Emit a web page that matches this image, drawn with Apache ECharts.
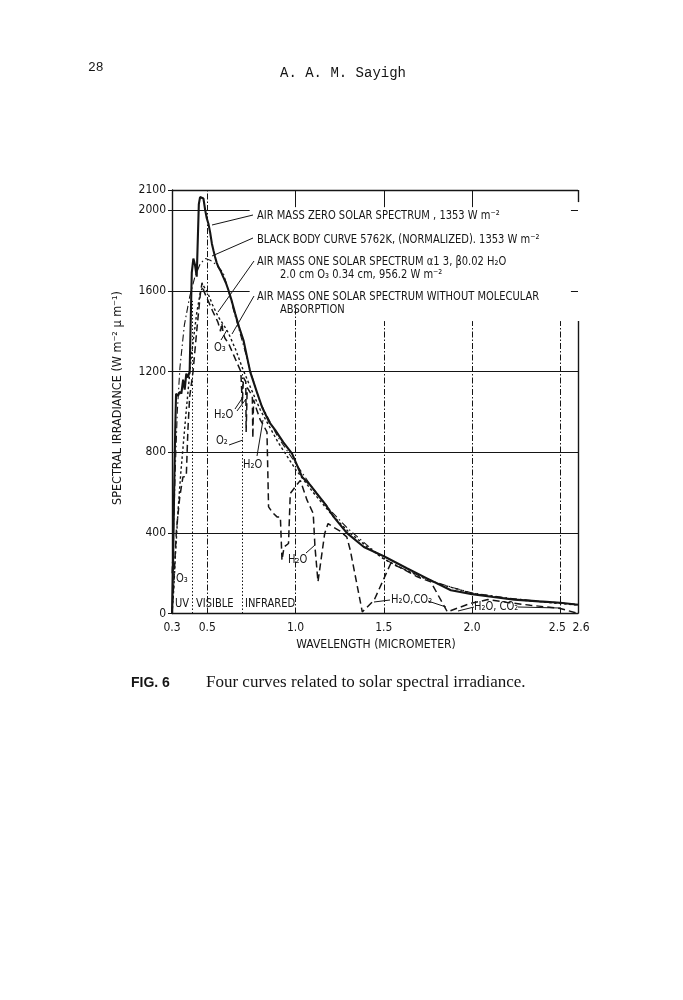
<!DOCTYPE html>
<html>
<head>
<meta charset="utf-8">
<script src="https://cdn.jsdelivr.net/npm/echarts@6/dist/echarts.min.js"></script>
<style>
html,body{margin:0;padding:0;background:#fff;}
#chart{width:683px;height:1000px;}
</style>
</head>
<body>
<div id="chart"></div>
<script>
// ---------- data ----------
const xTicks = [0.3, 0.5, 1.0, 1.5, 2.0, 2.5, 2.6];
const yTicks = [0, 400, 800, 1200, 1600, 2000, 2100];

// Air mass zero solar spectrum (solid)
const wlAM0  = [0.300,0.306,0.312,0.318,0.323,0.334,0.345,0.353,0.363,0.372,0.381,0.390,0.400,0.406,0.412,0.421,0.430,0.440,0.446,0.452,0.459,0.468,0.478,0.488,0.497,0.506,0.516,0.526,0.535,0.544,0.553,0.563,0.575,0.590,0.605,0.620,0.640,0.658,0.680,0.705,0.743,0.780,0.810,0.850,0.885,0.930,0.980,1.037,1.080,1.120,1.170,1.216,1.290,1.387,1.500,1.633,1.747,1.880,2.000,2.120,2.240,2.380,2.500,2.600];
const irrAM0 = [0,250,600,900,1090,1080,1100,1090,1160,1110,1190,1170,1200,1450,1690,1760,1730,1670,1850,2030,2065,2070,2058,2000,1960,1934,1890,1834,1800,1768,1740,1718,1700,1669,1640,1603,1545,1487,1420,1355,1198,1100,1024,950,909,850,793,677,640,595,540,479,400,330,284,223,173,115,96,82,69,60,53,43];

// Black body curve 5762K normalized (dash-dot)
const wlBB  = [0.300,0.310,0.320,0.330,0.345,0.370,0.400,0.430,0.460,0.490,0.520,0.550,0.590,0.620,0.650,0.700,0.750,0.800,0.900,1.000,1.100,1.200,1.300,1.400,1.500,1.600,1.700,1.800,1.900,2.000,2.200,2.400,2.600];
const irrBB = [200,450,750,1000,1220,1430,1570,1670,1735,1760,1750,1730,1690,1600,1500,1345,1185,1045,875,745,618,508,418,343,270,226,188,153,126,102,77,59,46];

// Air mass one solar spectrum (dashed, with absorption bands)
const wlAM1  = [0.300,0.310,0.325,0.344,0.362,0.381,0.390,0.400,0.419,0.440,0.460,0.470,0.480,0.500,0.530,0.560,0.575,0.582,0.590,0.600,0.620,0.650,0.690,0.697,0.698,0.705,0.718,0.720,0.726,0.740,0.755,0.758,0.762,0.780,0.800,0.820,0.838,0.847,0.870,0.895,0.914,0.923,0.935,0.960,0.970,0.998,1.027,1.065,1.100,1.110,1.127,1.165,1.184,1.210,1.250,1.290,1.310,1.378,1.445,1.539,1.600,1.690,1.766,1.860,1.990,2.090,2.200,2.330,2.500,2.600];
const irrAM1 = [0,150,413,578,677,680,909,1074,1198,1400,1580,1640,1600,1560,1500,1445,1400,1440,1390,1365,1340,1280,1200,1195,1040,1170,1150,900,1120,1100,1080,870,1060,1010,960,930,900,529,500,479,479,264,330,347,595,628,660,562,496,330,157,397,446,430,410,380,314,8,66,248,225,182,157,8,50,69,55,41,25,0];

// Air mass one solar spectrum without molecular absorption (dotted)
const wlNoMol  = [0.300,0.310,0.320,0.335,0.350,0.380,0.410,0.440,0.460,0.478,0.500,0.530,0.563,0.600,0.620,0.660,0.700,0.750,0.800,0.900,1.000,1.100,1.200,1.300,1.400,1.500,1.600,1.700,1.800,2.000,2.200,2.400,2.600];
const irrNoMol = [0,120,300,520,700,1000,1280,1490,1590,1625,1595,1530,1470,1420,1390,1310,1215,1110,1010,850,715,600,495,405,335,270,225,185,150,100,74,57,42];

// ---------- helpers ----------
const zip = (a, b) => a.map((v, i) => [v, b[i]]);
const INK = '#151515';
const NARROW = "'Liberation Sans Narrow','DejaVu Sans Condensed','Liberation Sans',sans-serif";

const solid = {color: INK, width: 1, type: 'solid'};
const border = {color: INK, width: 1.4, type: 'solid'};
const dashDot = {color: INK, width: 1, type: [6, 2, 1.5, 2]};
const dotted = {color: INK, width: 1, type: [1.5, 2]};
function seg(x1, y1, x2, y2, st) {
  return [{coord: [x1, y1], lineStyle: st}, {coord: [x2, y2]}];
}
const frame = [
  seg(0.3, 400, 2.6, 400, solid),
  seg(0.3, 800, 2.6, 800, solid),
  seg(0.3, 1200, 2.6, 1200, solid),
  seg(0.3, 1600, 0.74, 1600, solid),
  seg(0.3, 2000, 0.74, 2000, solid),
  seg(0.3, 2100, 2.6, 2100, border),
  seg(2.6, 0, 2.6, 1450, border),
  seg(2.6, 2040, 2.6, 2100, border),
  seg(2.56, 2000, 2.6, 2000, solid),
  seg(2.56, 1600, 2.6, 1600, solid),
  seg(0.5, 0, 0.5, 2100, dashDot),
  seg(1.0, 0, 1.0, 1540, dashDot),
  seg(1.0, 2015, 1.0, 2100, solid),
  seg(1.5, 0, 1.5, 1450, dashDot),
  seg(1.5, 2015, 1.5, 2100, solid),
  seg(2.0, 0, 2.0, 1450, dashDot),
  seg(2.0, 2015, 2.0, 2100, solid),
  seg(2.5, 0, 2.5, 1450, dashDot),
  seg(0.414, 0, 0.414, 1550, dotted),
  seg(0.70, 0, 0.70, 1200, dotted)
];

const chart = echarts.init(document.getElementById('chart'), null, {renderer: 'canvas'});

function txt(x, y, text, opts) {
  opts = opts || {};
  const narrow = !opts.font && !opts.noScale;
  return {
    type: 'text', x: x, y: y, z: 100, rotation: opts.rot || 0,
    scaleX: narrow ? 0.92 : 1,
    style: {
      text: text, x: 0, y: 0,
      font: opts.font || ((opts.size || 12) + 'px ' + NARROW),
      fill: INK,
      align: opts.align || 'left', textAlign: opts.align || 'left',
      verticalAlign: 'middle', textVerticalAlign: 'middle'
    }
  };
}
function ln(pts) {
  return {type: 'polyline', z: 100, shape: {points: pts}, style: {stroke: INK, lineWidth: 1, fill: null}};
}

const annotations = [
  // page header and caption
  txt(88, 68, '28', {font: "13px 'Liberation Mono','DejaVu Sans Mono',monospace"}),
  txt(280, 73, 'A. A. M. Sayigh', {font: "14px 'Liberation Mono','DejaVu Sans Mono',monospace"}),
  txt(131, 683, 'FIG. 6', {font: "bold 14px 'Liberation Sans',sans-serif"}),
  txt(206, 683, 'Four curves related to solar spectral irradiance.', {font: "17px 'Liberation Serif','DejaVu Serif',serif"}),
  // axis titles
  txt(118, 398, 'SPECTRAL IRRADIANCE (W m\u207B\u00B2 \u03BC m\u207B\u00B9)', {align: 'center', rot: Math.PI / 2, noScale: true, size: 12.5}),
  txt(376, 645, 'WAVELENGTH (MICROMETER)', {align: 'center', noScale: true}),
  // curve labels
  txt(257, 216, 'AIR MASS ZERO SOLAR SPECTRUM , 1353 W m\u207B\u00B2'),
  ln([[253, 215], [212, 225]]),
  txt(257, 240, 'BLACK BODY CURVE 5762K, (NORMALIZED). 1353 W m\u207B\u00B2'),
  ln([[253, 238], [212, 256]]),
  txt(257, 262, 'AIR MASS ONE SOLAR SPECTRUM \u03B11 3, \u03B20.02 H\u2082O'),
  txt(280, 275, '2.0 cm O\u2083 0.34 cm, 956.2 W m\u207B\u00B2'),
  ln([[254, 261], [218, 312]]),
  txt(257, 297, 'AIR MASS ONE SOLAR SPECTRUM WITHOUT MOLECULAR'),
  txt(280, 310, 'ABSORPTION'),
  ln([[254, 296], [232, 334]]),
  // absorption labels
  txt(214, 348, 'O\u2083'),
  ln([[221, 340], [227, 330]]),
  txt(214, 415, 'H\u2082O'),
  ln([[235, 409], [243, 397]]),
  ln([[237, 411], [246, 399]]),
  txt(216, 441, 'O\u2082'),
  ln([[229, 445], [243, 440]]),
  txt(243, 465, 'H\u2082O'),
  ln([[257, 456], [263, 420]]),
  txt(288, 560, 'H\u2082O'),
  ln([[306, 553], [315, 545]]),
  txt(176, 579, 'O\u2083'),
  txt(175, 604, 'UV'),
  txt(196, 604, 'VISIBLE'),
  txt(245, 604, 'INFRARED'),
  txt(391, 600, 'H\u2082O,CO\u2082'),
  ln([[390, 600], [374, 602]]),
  ln([[428, 601], [446, 607]]),
  txt(474, 607, 'H\u2082O, CO\u2082'),
  ln([[474, 607], [458, 611]]),
  ln([[518, 607], [560, 608]])
];

chart.setOption({
  animation: false,
  backgroundColor: '#fff',
  grid: {left: 172, right: 105, top: 190, bottom: 386.5, containLabel: false},
  xAxis: {
    type: 'value', min: 0.3, max: 2.6,
    axisLine: {show: true, lineStyle: {color: INK, width: 1.4}},
    axisTick: {show: false},
    splitLine: {show: false},
    axisLabel: {
      customValues: xTicks, margin: 8, color: INK,
      fontFamily: NARROW, fontSize: 12,
      hideOverlap: false, showMinLabel: true, showMaxLabel: true,
      formatter: v => (Math.abs(v - 2.5) < 1e-9 ? '{l|2.5}' : Math.abs(v - 2.6) < 1e-9 ? '{r|2.6}' : v.toFixed(1)),
      rich: {
        l: {padding: [0, 6, 0, 0], fontFamily: NARROW, fontSize: 12, color: INK},
        r: {padding: [0, 0, 0, 6], fontFamily: NARROW, fontSize: 12, color: INK}
      }
    }
  },
  yAxis: {
    type: 'value', min: 0, max: 2100,
    axisLine: {show: true, lineStyle: {color: INK, width: 1.4}},
    axisTick: {show: true, customValues: yTicks, length: 4, lineStyle: {color: INK}},
    splitLine: {show: false},
    axisLabel: {
      customValues: yTicks, margin: 6, color: INK,
      fontFamily: NARROW, fontSize: 12,
      hideOverlap: false, showMinLabel: true, showMaxLabel: true,
      formatter: v => String(v)
    }
  },
  series: [
    {
      name: 'frame', type: 'line', data: [], z: 1, silent: true,
      markLine: {silent: true, symbol: ['none', 'none'], label: {show: false}, data: frame, animation: false}
    },
    {
      name: 'Black body 5762K', type: 'line', data: zip(wlBB, irrBB), showSymbol: false, z: 3,
      lineStyle: {color: INK, width: 1.1, type: [7, 3, 1.5, 3]}
    },
    {
      name: 'Air mass one without molecular absorption', type: 'line', data: zip(wlNoMol, irrNoMol), showSymbol: false, z: 3,
      lineStyle: {color: INK, width: 1.4, type: [2.5, 2.5]}
    },
    {
      name: 'Air mass one', type: 'line', data: zip(wlAM1, irrAM1), showSymbol: false, z: 4,
      lineStyle: {color: INK, width: 1.5, type: [7, 4]}
    },
    {
      name: 'Air mass zero', type: 'line', data: zip(wlAM0, irrAM0), showSymbol: false, z: 5,
      lineStyle: {color: INK, width: 2.1, type: 'solid'}
    }
  ],
  graphic: annotations
});
</script>
</body>
</html>
